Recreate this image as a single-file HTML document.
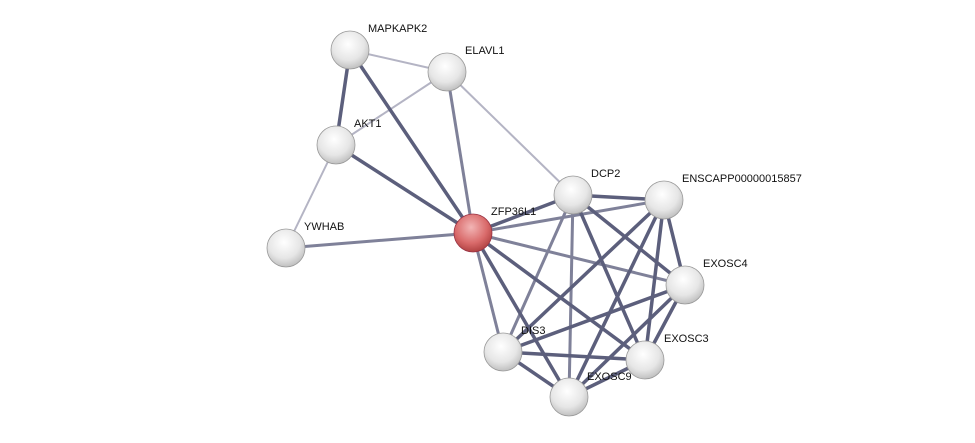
<!DOCTYPE html>
<html><head><meta charset="utf-8"><style>
html,body{margin:0;padding:0;background:#fff;}
svg{display:block;}
text{font-family:"Liberation Sans",sans-serif;font-size:11px;fill:#111;}
</style></head><body>
<svg width="975" height="443" viewBox="0 0 975 443" xmlns="http://www.w3.org/2000/svg">
<defs>
<radialGradient id="g" cx="0.45" cy="0.35" r="0.7">
<stop offset="0" stop-color="#ffffff"/><stop offset="0.6" stop-color="#e6e6e6"/><stop offset="1" stop-color="#b8b8b8"/>
</radialGradient>
<radialGradient id="r" cx="0.45" cy="0.35" r="0.7">
<stop offset="0" stop-color="#f2b5b5"/><stop offset="0.6" stop-color="#d96a6a"/><stop offset="1" stop-color="#a83a3a"/>
</radialGradient>
</defs>
<g stroke-linecap="round">
<g stroke="#b4b4c4" stroke-width="2">
<line x1="350" y1="50" x2="447" y2="72"/>
<line x1="447" y1="72" x2="336" y2="145"/>
<line x1="447" y1="72" x2="573" y2="195"/>
<line x1="336" y1="145" x2="286" y2="248"/>
</g>
<g stroke="#7f8199" stroke-width="3">
<line x1="447" y1="72" x2="473" y2="233"/>
<line x1="286" y1="248" x2="473" y2="233"/>
<line x1="473" y1="233" x2="503" y2="352"/>
<line x1="573" y1="195" x2="503" y2="352"/>
<line x1="573" y1="195" x2="569" y2="397"/>
<line x1="473" y1="233" x2="664" y2="200"/>
<line x1="473" y1="233" x2="685" y2="285"/>
</g>
<g stroke="#5c5f7c" stroke-width="3.5">
<line x1="350" y1="50" x2="336" y2="145"/>
<line x1="350" y1="50" x2="473" y2="233"/>
<line x1="336" y1="145" x2="473" y2="233"/>
<line x1="473" y1="233" x2="573" y2="195"/>
<line x1="473" y1="233" x2="645" y2="360"/>
<line x1="473" y1="233" x2="569" y2="397"/>
<line x1="573" y1="195" x2="664" y2="200"/>
<line x1="573" y1="195" x2="685" y2="285"/>
<line x1="573" y1="195" x2="645" y2="360"/>
<line x1="664" y1="200" x2="685" y2="285"/>
<line x1="664" y1="200" x2="645" y2="360"/>
<line x1="664" y1="200" x2="503" y2="352"/>
<line x1="664" y1="200" x2="569" y2="397"/>
<line x1="685" y1="285" x2="645" y2="360"/>
<line x1="685" y1="285" x2="503" y2="352"/>
<line x1="685" y1="285" x2="569" y2="397"/>
<line x1="645" y1="360" x2="503" y2="352"/>
<line x1="645" y1="360" x2="569" y2="397"/>
<line x1="503" y1="352" x2="569" y2="397"/>
</g>
</g>
<g stroke="#999" stroke-width="0.8">
<circle cx="350" cy="50" r="19" fill="url(#g)"/>
<circle cx="447" cy="72" r="19" fill="url(#g)"/>
<circle cx="336" cy="145" r="19" fill="url(#g)"/>
<circle cx="286" cy="248" r="19" fill="url(#g)"/>
<circle cx="573" cy="195" r="19" fill="url(#g)"/>
<circle cx="664" cy="200" r="19" fill="url(#g)"/>
<circle cx="685" cy="285" r="19" fill="url(#g)"/>
<circle cx="645" cy="360" r="19" fill="url(#g)"/>
<circle cx="503" cy="352" r="19" fill="url(#g)"/>
<circle cx="569" cy="397" r="19" fill="url(#g)"/>
<circle cx="473" cy="233" r="19" fill="url(#r)" stroke="#934"/>
</g>
<text x="368" y="32">MAPKAPK2</text>
<text x="465" y="54">ELAVL1</text>
<text x="354" y="127">AKT1</text>
<text x="304" y="230">YWHAB</text>
<text x="491" y="215">ZFP36L1</text>
<text x="591" y="177">DCP2</text>
<text x="682" y="182">ENSCAPP00000015857</text>
<text x="703" y="267">EXOSC4</text>
<text x="664" y="342">EXOSC3</text>
<text x="521" y="334">DIS3</text>
<text x="587" y="380">EXOSC9</text>
</svg>
</body></html>
